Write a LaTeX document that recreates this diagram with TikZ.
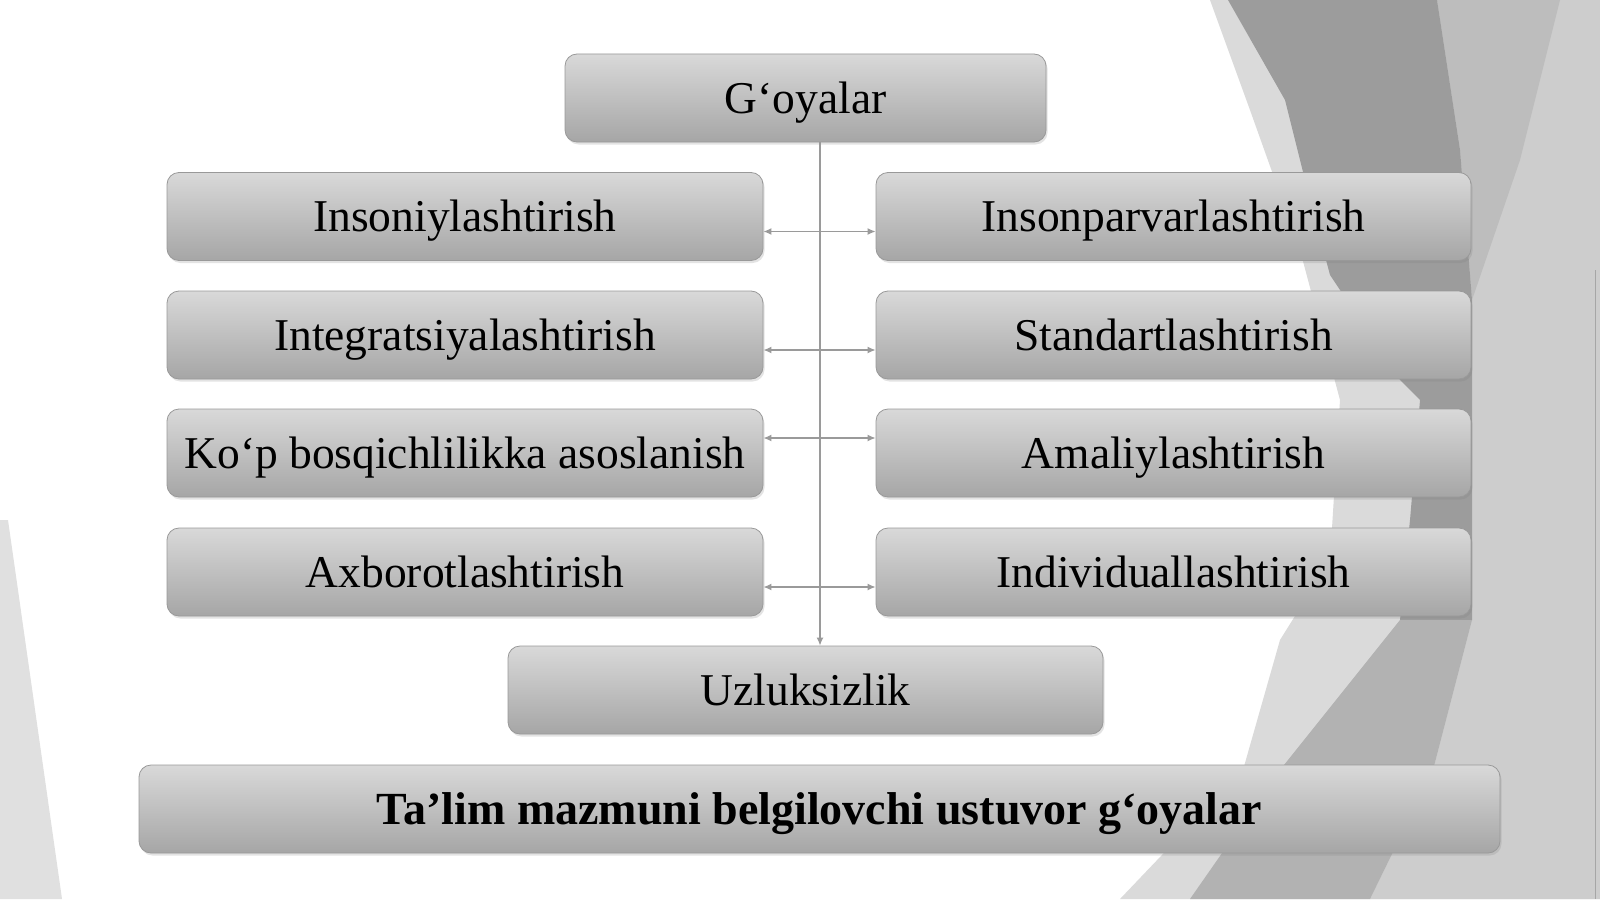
\documentclass[tikz,border=0pt]{standalone}
\usepackage{fontspec}
\setmainfont{Liberation Serif}
\usetikzlibrary{shadows,arrows.meta}
\definecolor{bgdark}{HTML}{9C9C9C}
\definecolor{bgmid}{HTML}{B2B2B2}
\definecolor{bglight}{HTML}{DADADA}
\definecolor{bgstrip}{HTML}{BDBDBD}
\definecolor{bgright}{HTML}{CDCDCD}
\definecolor{connc}{HTML}{9A9A9A}
\tikzset{
  boxnode/.style={draw=black!40, line width=0.8pt, rounded corners=12pt,
    top color=black!15, bottom color=black!35, minimum height=88pt,
    inner sep=0pt, text=black, font=\fontsize{45.5}{54}\selectfont,
    text height=34pt, text depth=4pt,
    drop shadow={shadow xshift=1.5pt, shadow yshift=-2.5pt, opacity=0.22}},
  conn/.style={draw=connc, line width=1.4pt},
  tip/.tip={Latex[length=8pt,width=7pt]}
}
\begin{document}
\begin{tikzpicture}[x=1pt,y=-1pt]
\useasboundingbox (0,0) rectangle (1600,899);
\fill[white] (0,0) rectangle (1600,899);
% background shapes
\fill[bglight] (1210,0) -- (1600,0) -- (1600,899) -- (1120,899) -- (1243,770)
  -- (1280,640) -- (1330,560) -- (1340,400) -- (1300,250) -- (1250,110) -- cycle;
\fill[bgright] (1437,0) -- (1600,0) -- (1600,899) -- (1370,899) -- (1433,770)
  -- (1472,620) -- (1472,300) -- cycle;
\fill[bgstrip] (1437,0) -- (1560,0) -- (1520,160) -- (1472,300) -- (1460,150) -- cycle;
\fill[bgdark] (1228,0) -- (1437,0) -- (1460,150) -- (1472,300) -- (1472,620)
  -- (1400,620) -- (1410,520) -- (1420,400) -- (1400,380) -- (1330,275)
  -- (1310,200) -- (1285,100) -- cycle;
\fill[bgmid] (1400,620) -- (1472,620) -- (1433,770) -- (1370,899) -- (1190,899)
  -- (1280,770) -- cycle;
\draw[black!35, line width=1pt] (1595,270) -- (1595,899);
\fill[black!12] (0,520) -- (8,520) -- (62,899) -- (0,899) -- cycle;

% boxes
\node[boxnode, minimum width=481pt] (G) at (805.5,98) {G‘oyalar};
\node[boxnode, minimum width=596pt] (L1) at (465,216.5) {Insoniylashtirish};
\node[boxnode, minimum width=596pt] (L2) at (465,335) {Integratsiyalashtirish};
\node[boxnode, minimum width=596pt] (L3) at (465,453) {Ko‘p bosqichlilikka asoslanish};
\node[boxnode, minimum width=596pt] (L4) at (465,572) {Axborotlashtirish};
\node[boxnode, minimum width=595pt] (R1) at (1173.5,216.5) {Insonparvarlashtirish};
\node[boxnode, minimum width=595pt] (R2) at (1173.5,335) {Standartlashtirish};
\node[boxnode, minimum width=595pt] (R3) at (1173.5,453) {Amaliylashtirish};
\node[boxnode, minimum width=595pt] (R4) at (1173.5,572) {Individuallashtirish};
\node[boxnode, minimum width=595pt] (U) at (805.5,690) {Uzluksizlik};
\node[boxnode, minimum width=1361pt, font=\fontsize{46}{54}\selectfont\bfseries] (T) at (819.5,809) {Ta’lim mazmuni belgilovchi ustuvor g‘oyalar};

% connectors
\coordinate (vx) at (820,0);
\draw[conn, -{tip}] (G.south -| vx) -- (U.north -| vx);
\draw[conn, {tip}-{tip}] ([yshift=-15pt]L1.east) -- ([yshift=-15pt]R1.west);
\draw[conn, {tip}-{tip}] ([yshift=-15pt]L2.east) -- ([yshift=-15pt]R2.west);
\draw[conn, {tip}-{tip}] ([yshift=15pt]L3.east) -- ([yshift=15pt]R3.west);
\draw[conn, {tip}-{tip}] ([yshift=-15pt]L4.east) -- ([yshift=-15pt]R4.west);
\end{tikzpicture}
\end{document}
